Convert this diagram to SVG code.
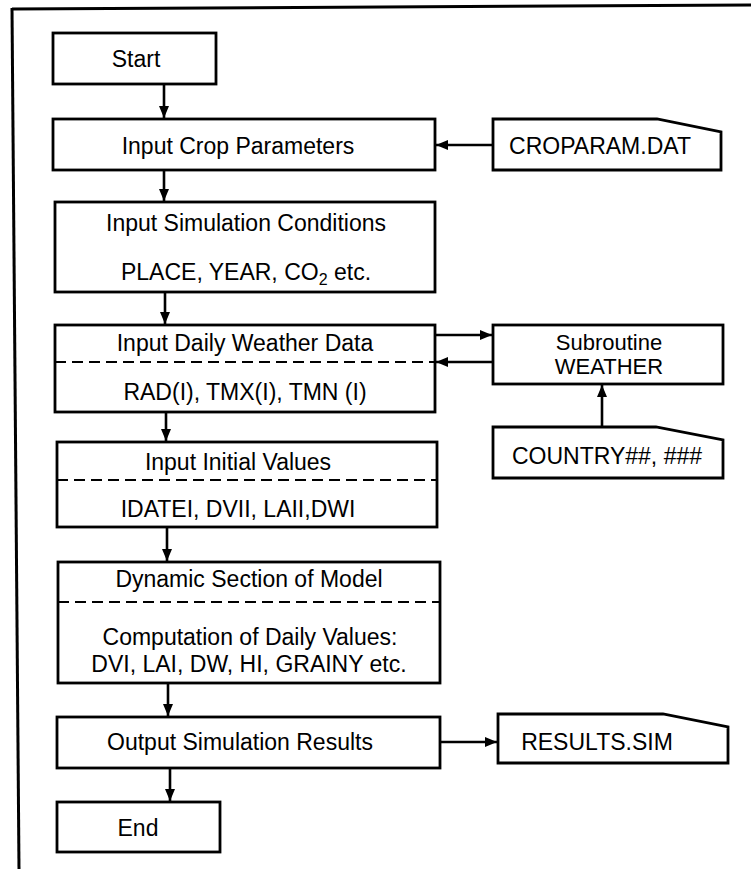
<svg xmlns="http://www.w3.org/2000/svg" width="751" height="869" viewBox="0 0 751 869">
<defs>
<style>
.box{fill:#fff;stroke:#000;stroke-width:2.8}
.dash{fill:none;stroke:#000;stroke-width:2.2;stroke-dasharray:11 6}
.t{font-family:"Liberation Sans",Arial,Helvetica,sans-serif;font-size:23px;fill:#000;text-anchor:middle}
.s{font-size:22px}
.c{fill:none;stroke:#000;stroke-width:2.6}
.frame{fill:none;stroke:#000;stroke-width:3}
</style>
<marker id="ah" markerUnits="userSpaceOnUse" markerWidth="14" markerHeight="12" refX="12" refY="5" orient="auto">
<path d="M0,0 L12,5 L0,10 Z" fill="#000"/>
</marker>
</defs>
<rect width="751" height="869" fill="#fff"/>
<g id="frame">
<line class="frame" x1="12" y1="9" x2="751" y2="5"/>
<line class="frame" x1="12" y1="8" x2="19" y2="869"/>
</g>
<g id="connectors">
<line class="c" x1="164" y1="84" x2="164" y2="118" marker-end="url(#ah)"/>
<line class="c" x1="493" y1="145" x2="436" y2="145" marker-end="url(#ah)"/>
<line class="c" x1="164" y1="170" x2="164" y2="201" marker-end="url(#ah)"/>
<line class="c" x1="165" y1="292" x2="165" y2="324" marker-end="url(#ah)"/>
<line class="c" x1="435" y1="335" x2="492" y2="335" marker-end="url(#ah)"/>
<line class="c" x1="493" y1="362" x2="436" y2="362" marker-end="url(#ah)"/>
<line class="c" x1="602" y1="427" x2="602" y2="385" marker-end="url(#ah)"/>
<line class="c" x1="166" y1="412" x2="166" y2="441" marker-end="url(#ah)"/>
<line class="c" x1="167" y1="527" x2="167" y2="561" marker-end="url(#ah)"/>
<line class="c" x1="168" y1="683" x2="168" y2="716" marker-end="url(#ah)"/>
<line class="c" x1="440" y1="742" x2="497" y2="742" marker-end="url(#ah)"/>
<line class="c" x1="170" y1="768" x2="170" y2="801" marker-end="url(#ah)"/>
</g>
<g id="start">
<rect class="box" x="53" y="33" width="163" height="51"/>
<text class="t" x="136" y="67">Start</text>
</g>
<g id="crop">
<rect class="box" x="53" y="119" width="382" height="51"/>
<text class="t" x="238" y="154">Input Crop Parameters</text>
</g>
<g id="croparam">
<path class="box" d="M493,119 L657,119 L721,132 L721,170 L493,170 Z"/>
<text class="t" x="600" y="154">CROPARAM.DAT</text>
</g>
<g id="simcond">
<rect class="box" x="55" y="202" width="380" height="90"/>
<text class="t" x="246" y="231">Input Simulation Conditions</text>
<text class="t" x="246" y="280">PLACE, YEAR, CO<tspan font-size="16" dy="5">2</tspan><tspan dy="-5"> etc.</tspan></text>
</g>
<g id="weather">
<rect class="box" x="55" y="325" width="380" height="87"/>
<line class="dash" x1="55" y1="362" x2="435" y2="362"/>
<text class="t" x="245" y="351">Input Daily Weather Data</text>
<text class="t" x="245" y="400">RAD(I), TMX(I), TMN (I)</text>
</g>
<g id="subroutine">
<rect class="box" x="493" y="325" width="230" height="59"/>
<text class="t s" x="609" y="350">Subroutine</text>
<text class="t s" x="609" y="374">WEATHER</text>
</g>
<g id="country">
<path class="box" d="M493,427 L656,427 L723,440 L723,478 L493,478 Z"/>
<text class="t" x="607" y="464">COUNTRY##, ###</text>
</g>
<g id="initial">
<rect class="box" x="57" y="442" width="380" height="85"/>
<line class="dash" x1="57" y1="480" x2="437" y2="480"/>
<text class="t" x="238" y="470">Input Initial Values</text>
<text class="t" x="238" y="517">IDATEI, DVII, LAII,DWI</text>
</g>
<g id="dynamic">
<rect class="box" x="58" y="562" width="382" height="121"/>
<line class="dash" x1="58" y1="602" x2="440" y2="602"/>
<text class="t" x="249" y="587">Dynamic Section of Model</text>
<text class="t" x="250" y="645">Computation of Daily Values:</text>
<text class="t" x="249" y="672">DVI, LAI, DW, HI, GRAINY etc.</text>
</g>
<g id="output">
<rect class="box" x="57" y="717" width="383" height="51"/>
<text class="t" x="240" y="750">Output Simulation Results</text>
</g>
<g id="results">
<path class="box" d="M498,714 L663,714 L728,727 L728,763 L498,763 Z"/>
<text class="t" x="597" y="750">RESULTS.SIM</text>
</g>
<g id="end">
<rect class="box" x="57" y="802" width="163" height="50"/>
<text class="t" x="138" y="836">End</text>
</g>
</svg>
